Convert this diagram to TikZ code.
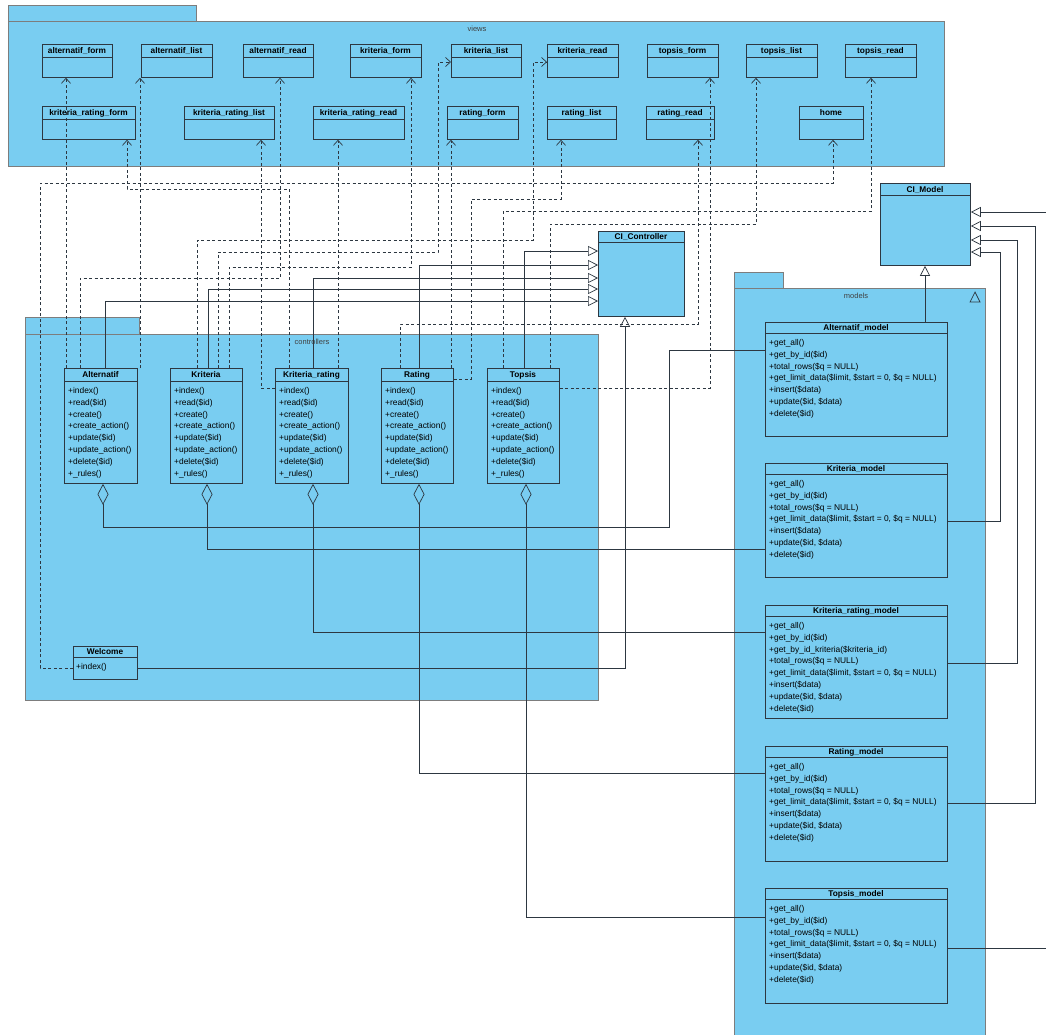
\documentclass[tikz,border=0pt]{standalone}
\usepackage{fontspec}
\setmainfont{Liberation Sans}
\usetikzlibrary{arrows.meta}
\definecolor{pkgfill}{RGB}{121,205,241}
\definecolor{pkgedge}{RGB}{125,125,125}
\definecolor{ink}{RGB}{45,55,65}

% class box: name, x, y, width, height, header height, title
\newcommand\klass[7]{%
  \node[clsbox, minimum width=#4pt, minimum height=#5pt] (#1) at (#2,#3) {};
  \draw[clsline] (#2,#3+#6) -- (#2+#4,#3+#6);
  \node[ttl] (#1-t) at (#2+#4/2,#3+#6/2+3) {#7};}
% operations: name, x, first baseline, list
\newcommand\opslist[4]{%
  \foreach \t [count=\i from 0] in #4
    \node[meth] (#1-\i) at (#2,#3+11.8*\i) {\t};}

\newcommand\ctlops{+index(),+read(\$id),+create(),+create\_action(),+update(\$id),+update\_action(),+delete(\$id),+\_rules()}
\newcommand\mdlops{+get\_all(),+get\_by\_id(\$id),+total\_rows(\$q = NULL),{+get\_limit\_data(\$limit, \$start = 0, \$q = NULL)},+insert(\$data),{+update(\$id, \$data)},+delete(\$id)}
\newcommand\krmdlops{+get\_all(),+get\_by\_id(\$id),+get\_by\_id\_kriteria(\$kriteria\_id),+total\_rows(\$q = NULL),{+get\_limit\_data(\$limit, \$start = 0, \$q = NULL)},+insert(\$data),{+update(\$id, \$data)},+delete(\$id)}

\begin{document}
\begin{tikzpicture}[x=1pt,y=-1pt,
  pkg/.style={draw=pkgedge, fill=pkgfill, line width=0.9pt},
  clsbox/.style={draw=ink, fill=pkgfill, line width=0.8pt, inner sep=0pt, anchor=north west},
  clsline/.style={draw=ink, line width=0.8pt},
  ttl/.style={font=\bfseries\fontsize{8.3}{9}\selectfont, inner sep=0pt, anchor=base},
  meth/.style={font=\fontsize{8.4}{10}\selectfont, inner sep=0pt, anchor=base west},
  lbl/.style={font=\fontsize{7.5}{8}\selectfont, inner sep=0pt, text=black!75},
  dep/.style={draw=ink, line width=0.7pt, dash pattern=on 3pt off 2.5pt, -{Straight Barb[length=5pt,width=9pt]}},
  gen/.style={draw=ink, line width=0.7pt, -{Triangle[open,length=10pt,width=10pt]}},
  agg/.style={draw=ink, line width=0.7pt, {Diamond[open,length=21pt,width=11pt]}-}]

\fill[white] (0,0) rectangle (1046,1034);
\useasboundingbox (0,0) rectangle (1046,1034);

% ---------- packages ----------
\draw[pkg] (8,5) rectangle (196,21);
\draw[pkg] (8,21) rectangle (944,166);
\node[lbl] (lblViews) at (477,29) {views};

\draw[pkg] (25,317) rectangle (139,334);
\draw[pkg] (25,334) rectangle (598,700);
\node[lbl] (lblCtl) at (312,342) {controllers};

\draw[pkg] (734,272) rectangle (783,288);
\draw[pkg] (734,288) rectangle (985,1050);
\node[lbl] (lblMod) at (856,296) {models};
\draw[ink, line width=0.7pt] (970,302) -- (980,302) -- (975,292) -- cycle;

% ---------- views ----------
\klass{vAltForm}{42}{44}{70}{33}{13}{alternatif\_form}
\klass{vAltList}{141}{44}{71}{33}{13}{alternatif\_list}
\klass{vAltRead}{243}{44}{70}{33}{13}{alternatif\_read}
\klass{vKriForm}{350}{44}{71}{33}{13}{kriteria\_form}
\klass{vKriList}{451}{44}{70}{33}{13}{kriteria\_list}
\klass{vKriRead}{547}{44}{71}{33}{13}{kriteria\_read}
\klass{vTopForm}{647}{44}{71}{33}{13}{topsis\_form}
\klass{vTopList}{746}{44}{71}{33}{13}{topsis\_list}
\klass{vTopRead}{845}{44}{71}{33}{13}{topsis\_read}

\klass{vKRForm}{42}{106}{93}{33}{13}{kriteria\_rating\_form}
\klass{vKRList}{184}{106}{90}{33}{13}{kriteria\_rating\_list}
\klass{vKRRead}{313}{106}{91}{33}{13}{kriteria\_rating\_read}
\klass{vRatForm}{447}{106}{71}{33}{13}{rating\_form}
\klass{vRatList}{547}{106}{69}{33}{13}{rating\_list}
\klass{vRatRead}{646}{106}{68}{33}{13}{rating\_read}
\klass{vHome}{799}{106}{64}{33}{13}{home}

% ---------- controllers ----------
\klass{cAlt}{64}{368}{73}{115}{13}{Alternatif}
\opslist{cAlt}{68}{393.5}{\ctlops}
\klass{cKri}{170}{368}{72}{115}{13}{Kriteria}
\opslist{cKri}{174}{393.5}{\ctlops}
\klass{cKR}{275}{368}{73}{115}{13}{Kriteria\_rating}
\opslist{cKR}{279}{393.5}{\ctlops}
\klass{cRat}{381}{368}{72}{115}{13}{Rating}
\opslist{cRat}{385}{393.5}{\ctlops}
\klass{cTop}{487}{368}{72}{115}{13}{Topsis}
\opslist{cTop}{491}{393.5}{\ctlops}

\klass{cWel}{73}{646}{64}{33}{11}{Welcome}
\opslist{cWel}{76}{669.5}{{+index()}}

\klass{cCI}{598}{231}{86}{85}{11}{CI\_Controller}
\klass{mCI}{880}{183}{90}{82}{12}{CI\_Model}

% ---------- models ----------
\klass{mAlt}{765}{322}{182}{114}{11}{Alternatif\_model}
\opslist{mAlt}{769}{345.5}{\mdlops}
\klass{mKri}{765}{463}{182}{114}{11}{Kriteria\_model}
\opslist{mKri}{769}{486.5}{\mdlops}
\klass{mKR}{765}{605}{182}{113}{11}{Kriteria\_rating\_model}
\opslist{mKR}{769}{628.5}{\krmdlops}
\klass{mRat}{765}{746}{182}{115}{11}{Rating\_model}
\opslist{mRat}{769}{769.5}{\mdlops}
\klass{mTop}{765}{888}{182}{115}{11}{Topsis\_model}
\opslist{mTop}{769}{911.5}{\mdlops}

% ---------- dependencies: controllers use views ----------
\draw[dep] (66,0 |- cAlt.north) -- (66,0 |- vAltForm.south);
\draw[dep] (140,0 |- cAlt.north) -- (140,0 |- vAltList.south);
\draw[dep] (80,0 |- cAlt.north) -- (80,278) -- (280,278) -- (280,0 |- vAltRead.south);
\draw[dep] (197,0 |- cKri.north) -- (197,240) -- (533,240) -- (533,62) -- (vKriRead.west |- 0,62);
\draw[dep] (218,0 |- cKri.north) -- (218,252) -- (438,252) -- (438,62) -- (vKriList.west |- 0,62);
\draw[dep] (229,0 |- cKri.north) -- (229,267) -- (411,267) -- (411,0 |- vKriForm.south);
\draw[dep] (289,0 |- cKR.north) -- (289,189) -- (127,189) -- (127,0 |- vKRForm.south);
\draw[dep] (cKR.west |- 0,388) -- (261,388) -- (261,0 |- vKRList.south);
\draw[dep] (338,0 |- cKR.north) -- (338,0 |- vKRRead.south);
\draw[dep] (451,0 |- cRat.north) -- (451,0 |- vRatForm.south);
\draw[dep] (cRat.east |- 0,379) -- (471,379) -- (471,199) -- (561,199) -- (561,0 |- vRatList.south);
\draw[dep] (400,0 |- cRat.north) -- (400,324) -- (698,324) -- (698,0 |- vRatRead.south);
\draw[dep] (503,0 |- cTop.north) -- (503,211) -- (871,211) -- (871,0 |- vTopRead.south);
\draw[dep] (550,0 |- cTop.north) -- (550,224) -- (756,224) -- (756,0 |- vTopList.south);
\draw[dep] (cTop.east |- 0,388) -- (710,388) -- (710,0 |- vTopForm.south);
\draw[dep] (cWel.west |- 0,668) -- (40,668) -- (40,183) -- (833,183) -- (833,0 |- vHome.south);

% ---------- generalizations ----------
\draw[gen] (524,0 |- cTop.north) -- (524,251) -- (cCI.west |- 0,251);
\draw[gen] (419,0 |- cRat.north) -- (419,265) -- (cCI.west |- 0,265);
\draw[gen] (313,0 |- cKR.north) -- (313,278) -- (cCI.west |- 0,278);
\draw[gen] (208,0 |- cKri.north) -- (208,289) -- (cCI.west |- 0,289);
\draw[gen] (105,0 |- cAlt.north) -- (105,301) -- (cCI.west |- 0,301);
\draw[gen] (cWel.east |- 0,668) -- (625,668) -- (625,0 |- cCI.south);

\draw[gen] (925,0 |- mAlt.north) -- (925,0 |- mCI.south);
\draw[gen] (mKri.east |- 0,521) -- (1000,521) -- (1000,252) -- (mCI.east |- 0,252);
\draw[gen] (mKR.east |- 0,663) -- (1017,663) -- (1017,240) -- (mCI.east |- 0,240);
\draw[gen] (mRat.east |- 0,803) -- (1035,803) -- (1035,226) -- (mCI.east |- 0,226);
\coordinate (offRight) at (1062,0);
\draw[gen] (mTop.east |- 0,948) -- (offRight |- 0,948) -- (offRight |- 0,212) -- (mCI.east |- 0,212);

% ---------- aggregations ----------
\draw[agg] (103,0 |- cAlt.south) -- (103,527) -- (669,527) -- (669,350) -- (mAlt.west |- 0,350);
\draw[agg] (207,0 |- cKri.south) -- (207,549) -- (mKri.west |- 0,549);
\draw[agg] (313,0 |- cKR.south) -- (313,632) -- (mKR.west |- 0,632);
\draw[agg] (419,0 |- cRat.south) -- (419,773) -- (mRat.west |- 0,773);
\draw[agg] (526,0 |- cTop.south) -- (526,917) -- (mTop.west |- 0,917);
\end{tikzpicture}
\end{document}
